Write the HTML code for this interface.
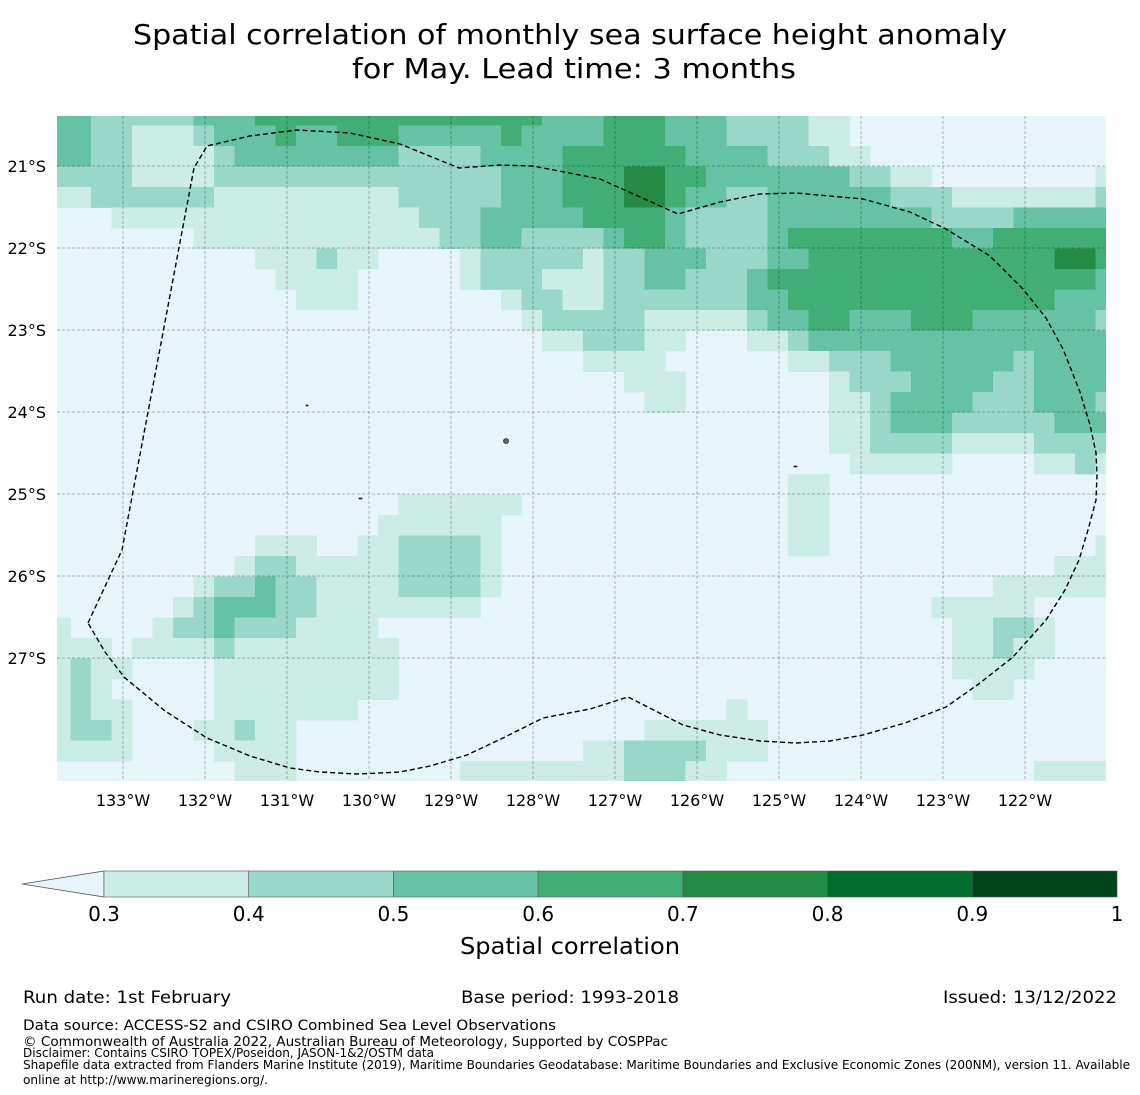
<!DOCTYPE html>
<html><head><meta charset="utf-8"><style>
html,body{margin:0;padding:0;background:#fff;}
svg{display:block;font-family:"DejaVu Sans","Liberation Sans",sans-serif;}
</style></head><body>
<svg id="fig" width="1140" height="1095" viewBox="0 0 1140 1095" xmlns="http://www.w3.org/2000/svg">
<text x="570" y="44" font-size="28" text-anchor="middle" textLength="874" lengthAdjust="spacingAndGlyphs">Spatial correlation of monthly sea surface height anomaly</text>
<text x="574" y="78" font-size="28" text-anchor="middle" textLength="444" lengthAdjust="spacingAndGlyphs">for May. Lead time: 3 months</text>
<defs><clipPath id="mapclip"><rect x="57" y="116" width="1049" height="665"/></clipPath></defs>
<g id="map" clip-path="url(#mapclip)">
<rect x="57" y="116" width="1049" height="665" fill="#e5f5f9"/>
<g id="cells"></g>
<g id="grid"></g>
<path id="eez" fill="none" stroke="#000" stroke-width="1.4" stroke-dasharray="5,3"/>
<g fill="#666" stroke="#000" stroke-width="0.6">
<circle cx="506" cy="441" r="2.5"/><rect x="306" y="405" width="2" height="1"/><rect x="359" y="498" width="3" height="1"/><rect x="794" y="466" width="3" height="1"/>
</g>
</g>
<g id="latlabels" font-size="16" text-anchor="end"></g>
<g id="lonlabels" font-size="16" text-anchor="middle"></g>
<g id="cbar"></g>
<text x="570" y="954" font-size="23" text-anchor="middle" textLength="220" lengthAdjust="spacingAndGlyphs">Spatial correlation</text>
<text x="23" y="1003" font-size="17" textLength="208" lengthAdjust="spacingAndGlyphs">Run date: 1st February</text>
<text x="461" y="1003" font-size="17" textLength="218" lengthAdjust="spacingAndGlyphs">Base period: 1993-2018</text>
<text x="943" y="1003" font-size="17" textLength="174" lengthAdjust="spacingAndGlyphs">Issued: 13/12/2022</text>
<text x="23" y="1030" font-size="14.5" textLength="533" lengthAdjust="spacingAndGlyphs">Data source: ACCESS-S2 and CSIRO Combined Sea Level Observations</text>
<text x="23" y="1046" font-size="13.5" textLength="645" lengthAdjust="spacingAndGlyphs">© Commonwealth of Australia 2022, Australian Bureau of Meteorology, Supported by COSPPac</text>
<text x="23" y="1057" font-size="12" textLength="411" lengthAdjust="spacingAndGlyphs">Disclaimer: Contains CSIRO TOPEX/Poseidon, JASON-1&amp;2/OSTM data</text>
<text x="23" y="1069" font-size="12" textLength="1107" lengthAdjust="spacingAndGlyphs">Shapefile data extracted from Flanders Marine Institute (2019), Maritime Boundaries Geodatabase: Maritime Boundaries and Exclusive Economic Zones (200NM), version 11. Available</text>
<text x="23" y="1084" font-size="12" textLength="245" lengthAdjust="spacingAndGlyphs">online at http://www.marineregions.org/.</text>
</svg>
<script>
// correlation bin index per cell (0:<0.3, 1:0.3-0.4, 2:0.4-0.5, 3:0.5-0.6, 4:0.6-0.7, 5:0.7-0.8)
const rows = [
"3322222333444444444444443334443332222110000000000000",
"3322111233343344433333433334443332222110000000000000",
"3322111123333333322223333444444333322211000000000000",
"2222111122222222222222333444554433333332211000000001",
"1122222211111111122222333444554332233333322211111112",
"0001111111111111112223333344443222233333333222233333",
"0000000111111111111223322223443222234444444433444444",
"0000000000111211000012222212233322233444444444444554",
"0000000000011110000012221112233222344444444444444443",
"0000000000001110000000122112222222334444444444444333",
"0000000000000000000000012222211111233443334443333332",
"0000000000000000000000001122211000112333333333333333",
"0000000000000000000000000011110000001122233333323333",
"0000000000000000000000000000111000000012223333223333",
"0000000000000000000000000000011000000011233332223332",
"0000000000000000000000000000000000000011233322222333",
"0000000000000000000000000000000000000011222211112222",
"0000000000000000000000000000000000000001111100001121",
"0000000000000000000000000000000000001100000000000000",
"0000000000000000011111100000000000001100000000000000",
"0000000000000000111111000000000000001100000000000000",
"0000000000111001122221000000000000001100000000000001",
"0000000001221111122221000000000000000000000000000111",
"0000000122322111122221000000000000000000000000111111",
"0000001233322111111110000000000000000000000111110000",
"1000012232221111000000000000000000000000000011221000",
"1110111121111111100000000000000000000000000011211000",
"1211000011111111100000000000000000000000000011110000",
"1210000011111111100000000000000000000000000001100000",
"1211000011111110000000000000000001000000000000000000",
"1221000112110000000000000000011111100000000000000000",
"1111000011110000000000000011222211100000000000000000",
"0000000001110000000011111111222110000000000000001111"
];
const binColors = ["#e5f5f9","#ccece6","#99d8c9","#66c2a4","#41ae76","#238b45","#006d2c","#00441b"];
const lonTicks = [133,132,131,130,129,128,127,126,125,124,123,122];
const latTicks = [21,22,23,24,25,26,27];
const cbarTicks = ["0.3","0.4","0.5","0.6","0.7","0.8","0.9","1"];
const cbarBounds = [0.3,0.4,0.5,0.6,0.7,0.8,0.9,1.0];
const cellLonW0 = 133.8902, cellLatS0 = 20.2561, cellStep = 0.25;
// EEZ boundary traced in screen pixels
const eezPixels = [[88,623],[122,550],[194,168],[207,146],[250,136],[297,130],[350,133],[400,144],[459,168],[500,165],[533,166],[600,179],[678,214],[720,202],[760,194],[796,193],[863,199],[910,212],[946,229],[990,256],[1023,289],[1046,318],[1063,349],[1080,392],[1090,425],[1096,453],[1097,475],[1096,500],[1088,530],[1079,560],[1065,590],[1046,620],[1013,657],[980,683],[946,707],[905,723],[863,735],[830,741],[796,743],[760,741],[720,735],[683,725],[628,697],[590,709],[543,718],[505,737],[467,755],[430,766],[400,772],[357,774],[320,772],[290,768],[250,756],[207,738],[165,711],[124,677],[105,652],[88,623]];
const xOf = lonW => 123 + (133 - lonW) * 82;
const yOf = latS => 166 + (latS - 21) * 82;
const NS = "http://www.w3.org/2000/svg";
const cells = document.getElementById('cells');
rows.forEach((r, i) => {
  for (let j = 0; j < r.length; j++) {
    const v = +r[j];
    if (v === 0) continue;
    const x0 = xOf(cellLonW0 - j * cellStep), x1 = xOf(cellLonW0 - (j + 1) * cellStep);
    const y0 = yOf(cellLatS0 + i * cellStep), y1 = yOf(cellLatS0 + (i + 1) * cellStep);
    const el = document.createElementNS(NS, 'rect');
    
    
    el.setAttribute('x', x0); el.setAttribute('y', y0);
    el.setAttribute('width', x1 - x0 + 0.4); el.setAttribute('height', y1 - y0 + 0.4);
    el.setAttribute('fill', binColors[v]);
    cells.appendChild(el);
  }
});
const grid = document.getElementById('grid');
const lonL = document.getElementById('lonlabels');
lonTicks.forEach(l => {
  const x = xOf(l);
  const ln = document.createElementNS(NS, 'line');
  
  
  ln.setAttribute('x1', x); ln.setAttribute('x2', x); ln.setAttribute('y1', 116); ln.setAttribute('y2', 781);
  ln.setAttribute('stroke', 'rgba(0,0,0,0.35)'); ln.setAttribute('stroke-width', '0.8'); ln.setAttribute('stroke-dasharray', '3,2');
  grid.appendChild(ln);
  const t = document.createElementNS(NS, 'text');
  
  
  t.setAttribute('x', x); t.setAttribute('y', 806);
  t.textContent = l + '°W';
  lonL.appendChild(t);
});
const latL = document.getElementById('latlabels');
latTicks.forEach(l => {
  const y = yOf(l);
  const ln = document.createElementNS(NS, 'line');
  
  
  ln.setAttribute('x1', 57); ln.setAttribute('x2', 1106); ln.setAttribute('y1', y); ln.setAttribute('y2', y);
  ln.setAttribute('stroke', 'rgba(0,0,0,0.35)'); ln.setAttribute('stroke-width', '0.8'); ln.setAttribute('stroke-dasharray', '3,2');
  grid.appendChild(ln);
  const t = document.createElementNS(NS, 'text');
  
  
  t.setAttribute('x', 46); t.setAttribute('y', y + 6);
  t.textContent = l + '°S';
  latL.appendChild(t);
});
document.getElementById('eez').setAttribute('d', eezPixels.map((p, k) => (k ? 'L' : 'M') + p[0] + ',' + p[1]).join(' '));
// colorbar
const cb = document.getElementById('cbar');
const cbX = v => 104 + (v - 0.3) / 0.7 * (1117 - 104);
const tri = document.createElementNS(NS, 'polygon');


tri.setAttribute('points', '22,884 104,871 104,897');
tri.setAttribute('fill', binColors[0]); tri.setAttribute('stroke', '#555'); tri.setAttribute('stroke-width', '0.8');
cb.appendChild(tri);
for (let k = 0; k < cbarBounds.length - 1; k++) {
  const r = document.createElementNS(NS, 'rect');
  
  
  r.setAttribute('x', cbX(cbarBounds[k])); r.setAttribute('y', 871);
  r.setAttribute('width', cbX(cbarBounds[k + 1]) - cbX(cbarBounds[k])); r.setAttribute('height', 26);
  r.setAttribute('fill', binColors[k + 1]); r.setAttribute('stroke', '#555'); r.setAttribute('stroke-width', '0.6');
  cb.appendChild(r);
}
cbarTicks.forEach((s, k) => {
  const t = document.createElementNS(NS, 'text');
  
  
  t.setAttribute('x', cbX(cbarBounds[k])); t.setAttribute('y', 921);
  t.setAttribute('font-size', '20'); t.setAttribute('text-anchor', 'middle');
  t.textContent = s;
  cb.appendChild(t);
});
</script>
</body></html>
